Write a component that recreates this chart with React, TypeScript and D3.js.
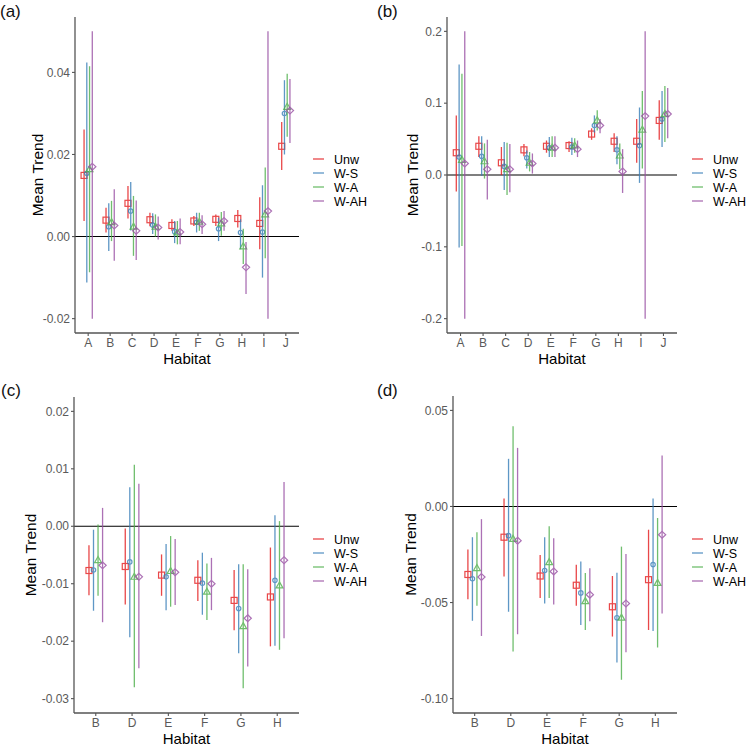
import * as d3 from "d3";

const seriesNames = ["Unw", "W-S", "W-A", "W-AH"];
const seriesColors = ["#E41A1C", "#377EB8", "#4DAF4A", "#984EA3"];

const habitatsTop = ["A", "B", "C", "D", "E", "F", "G", "H", "I", "J"];
const habitatsBottom = ["B", "D", "E", "F", "G", "H"];

// each entry: [mean, lower, upper]
const aUnw = [[0.0149, 0.0038, 0.0261], [0.004, 0.001, 0.007], [0.0081, 0.0044, 0.0123], [0.0041, 0.0025, 0.0058], [0.0027, 0.0014, 0.0042], [0.0038, 0.0026, 0.005], [0.0042, 0.0026, 0.0054], [0.0044, 0.0022, 0.0065], [0.0032, -0.0031, 0.0096], [0.022, 0.0162, 0.0279]];
const aWS = [[0.0154, -0.0112, 0.0424], [0.0024, -0.0035, 0.0081], [0.0062, 0.0015, 0.0133], [0.0028, 0.0006, 0.0057], [0.0012, -0.0016, 0.0038], [0.0035, 0.001, 0.0058], [0.0019, -0.0011, 0.0046], [0.001, -0.0031, 0.0042], [0.0011, -0.01, 0.0125], [0.03, 0.02, 0.0381]];
const aWA = [[0.0164, -0.0087, 0.0415], [0.0035, -0.0011, 0.0087], [0.0024, -0.0047, 0.0099], [0.0024, 0.0, 0.0054], [0.001, -0.0019, 0.0038], [0.0036, 0.0014, 0.0058], [0.0032, 0.0002, 0.006], [-0.0024, -0.0067, 0.0019], [0.0054, -0.0053, 0.0168], [0.0316, 0.0243, 0.0397]];
const aWAH = [[0.017, -0.02, 0.05], [0.0027, -0.0059, 0.0115], [0.0014, -0.0057, 0.0088], [0.0022, -0.0007, 0.0049], [0.0011, -0.0019, 0.0044], [0.003, 0.0006, 0.0052], [0.0038, 0.0014, 0.0062], [-0.0075, -0.014, -0.0013], [0.0062, -0.02, 0.05], [0.0307, 0.0228, 0.0384]];

const bUnw = [[0.031, -0.023, 0.083], [0.04, 0.025, 0.054], [0.017, 0.0, 0.039], [0.035, 0.026, 0.043], [0.04, 0.031, 0.048], [0.041, 0.032, 0.047], [0.057, 0.049, 0.065], [0.047, 0.032, 0.058], [0.047, 0.017, 0.078], [0.076, 0.049, 0.104]];
const bWS = [[0.025, -0.101, 0.154], [0.026, -0.001, 0.054], [0.012, -0.021, 0.046], [0.024, 0.009, 0.034], [0.038, 0.025, 0.053], [0.039, 0.028, 0.052], [0.069, 0.059, 0.083], [0.035, 0.015, 0.054], [0.041, -0.011, 0.094], [0.078, 0.039, 0.117]];
const bWA = [[0.021, -0.099, 0.141], [0.019, -0.005, 0.044], [0.008, -0.028, 0.045], [0.017, 0.005, 0.032], [0.038, 0.025, 0.054], [0.041, 0.031, 0.051], [0.076, 0.062, 0.09], [0.027, 0.008, 0.044], [0.063, 0.009, 0.117], [0.085, 0.046, 0.124]];
const bWAH = [[0.016, -0.2, 0.2], [0.008, -0.034, 0.049], [0.008, -0.024, 0.043], [0.016, 0.002, 0.03], [0.038, 0.025, 0.054], [0.036, 0.025, 0.048], [0.069, 0.058, 0.078], [0.005, -0.025, 0.036], [0.082, -0.2, 0.2], [0.085, 0.051, 0.121]];

const cUnw = [[-0.0077, -0.012, -0.0033], [-0.007, -0.0136, -0.0004], [-0.0085, -0.0121, -0.0049], [-0.0094, -0.013, -0.0059], [-0.0129, -0.0181, -0.0076], [-0.0123, -0.0209, -0.0037]];
const cWS = [[-0.0076, -0.0147, -0.0006], [-0.0062, -0.0193, 0.0068], [-0.0088, -0.0146, -0.0031], [-0.0099, -0.0154, -0.0046], [-0.0143, -0.0221, -0.0066], [-0.0094, -0.0208, 0.0019]];
const cWA = [[-0.0059, -0.0121, 0.0003], [-0.0088, -0.028, 0.0107], [-0.0078, -0.014, -0.0017], [-0.0114, -0.0163, -0.0065], [-0.0174, -0.0282, -0.0066], [-0.0103, -0.0215, 0.0009]];
const cWAH = [[-0.0068, -0.0167, 0.0032], [-0.0088, -0.0247, 0.0074], [-0.008, -0.0137, -0.0022], [-0.01, -0.0146, -0.0055], [-0.016, -0.0244, -0.0075], [-0.0059, -0.0195, 0.0077]];

const dUnw = [[-0.0354, -0.0483, -0.0224], [-0.016, -0.0364, 0.0041], [-0.0362, -0.0476, -0.0252], [-0.041, -0.0517, -0.0304], [-0.0522, -0.0677, -0.0362], [-0.0381, -0.0643, -0.0121]];
const dWS = [[-0.0376, -0.0595, -0.016], [-0.0152, -0.0548, 0.0248], [-0.0333, -0.0505, -0.016], [-0.045, -0.0617, -0.0286], [-0.0579, -0.0812, -0.0345], [-0.0302, -0.0648, 0.0041]];
const dWA = [[-0.0321, -0.0517, -0.0134], [-0.0169, -0.0755, 0.0417], [-0.029, -0.0476, -0.0103], [-0.0493, -0.0643, -0.0346], [-0.0579, -0.0902, -0.0209], [-0.0398, -0.0734, -0.006]];
const dWAH = [[-0.0367, -0.0674, -0.0066], [-0.0178, -0.0665, 0.0305], [-0.0338, -0.051, -0.0165], [-0.0459, -0.0597, -0.0321], [-0.0505, -0.0759, -0.0248], [-0.0147, -0.0557, 0.0265]];

const ticksA = [-0.02, 0.0, 0.02, 0.04];
const ticksB = [-0.2, -0.1, 0.0, 0.1, 0.2];
const ticksC = [-0.03, -0.02, -0.01, 0.0, 0.01, 0.02];
const ticksD = [-0.1, -0.05, 0.0, 0.05];

const font = "'Liberation Sans', Arial, sans-serif";

type PanelProps = {
  label: string;
  cats: string[];
  series: number[][][];
  limits: [number, number];
  ticks: number[];
  fmt: (v: number) => string;
  x0: number;
  x1: number;
  yTop: number;
  yBot: number;
  titleX: number;
  labelX: number;
  labelY: number;
  legendX: number;
  legendY: number;
};

const Marker = ({ kind, x, y, color }: { kind: number; x: number; y: number; color: string }) => {
  const common = { fill: "none", stroke: color, strokeWidth: 1.2 };
  if (kind === 0) return <rect x={x - 3} y={y - 3} width={6} height={6} {...common} />;
  if (kind === 1) return <circle cx={x} cy={y} r={2.2} {...common} />;
  if (kind === 2)
    return <path d={`M${x},${y - 3.6}L${x + 3.4},${y + 2.4}L${x - 3.4},${y + 2.4}Z`} {...common} />;
  return <path d={`M${x},${y - 3.4}L${x + 3.6},${y}L${x},${y + 3.4}L${x - 3.6},${y}Z`} {...common} />;
};

const Panel = (p: PanelProps) => {
  const pad = (p.limits[1] - p.limits[0]) * 0.05;
  const y = d3
    .scaleLinear()
    .domain([p.limits[0] - pad, p.limits[1] + pad])
    .range([p.yBot, p.yTop]);
  const x = d3.scalePoint<string>().domain(p.cats).range([p.x0, p.x1]).padding(0.6);
  const step = x.step();
  const dodge = (i: number) => (i - 1.5) * step * 0.125;
  const axisColor = "#555";
  const textColor = "#5a5a5a";

  return (
    <g>
      <text x={p.labelX} y={p.labelY} fontSize={17} fontFamily={font} fill="#111">
        {p.label}
      </text>
      {/* zero line */}
      <line x1={p.x0} x2={p.x1} y1={y(0)} y2={y(0)} stroke="#000" strokeWidth={1.1} />
      {/* error bars and points */}
      {p.series.map((s, si) => (
        <g key={si} opacity={0.8}>
          {s.map((d, ci) => {
            const cx = x(p.cats[ci])! + dodge(si);
            return (
              <g key={ci}>
                <line x1={cx} x2={cx} y1={y(d[1])} y2={y(d[2])} stroke={seriesColors[si]} strokeWidth={1.3} />
                <Marker kind={si} x={cx} y={y(d[0])} color={seriesColors[si]} />
              </g>
            );
          })}
        </g>
      ))}
      {/* axes */}
      <line x1={p.x0} x2={p.x0} y1={p.yTop} y2={p.yBot} stroke={axisColor} strokeWidth={1.3} />
      <line x1={p.x0} x2={p.x1} y1={p.yBot} y2={p.yBot} stroke={axisColor} strokeWidth={1.3} />
      {p.ticks.map((t) => (
        <g key={t}>
          <line x1={p.x0 - 3} x2={p.x0} y1={y(t)} y2={y(t)} stroke={axisColor} strokeWidth={1.1} />
          <text x={p.x0 - 5} y={y(t) + 4.2} textAnchor="end" fontSize={12} fontFamily={font} fill={textColor}>
            {p.fmt(t)}
          </text>
        </g>
      ))}
      {p.cats.map((c) => (
        <g key={c}>
          <line x1={x(c)} x2={x(c)} y1={p.yBot} y2={p.yBot + 3} stroke={axisColor} strokeWidth={1.1} />
          <text x={x(c)} y={p.yBot + 13.5} textAnchor="middle" fontSize={12} fontFamily={font} fill={textColor}>
            {c}
          </text>
        </g>
      ))}
      <text
        x={(p.x0 + p.x1) / 2}
        y={p.yBot + 30.5}
        textAnchor="middle"
        fontSize={15}
        fontFamily={font}
        fill="#000"
      >
        Habitat
      </text>
      <text
        transform={`translate(${p.titleX},${(p.yTop + p.yBot) / 2}) rotate(-90)`}
        textAnchor="middle"
        dy="0.35em"
        fontSize={15.5}
        fontFamily={font}
        fill="#000"
      >
        Mean Trend
      </text>
      {/* legend */}
      {seriesNames.map((n, i) => (
        <g key={n} transform={`translate(${p.legendX},${p.legendY + i * 14})`}>
          <line x1={0} x2={11} y1={0} y2={0} stroke={seriesColors[i]} strokeWidth={1.3} opacity={0.8} />
          <text x={21} y={4.5} fontSize={12.5} fontFamily={font} fill="#000">
            {n}
          </text>
        </g>
      ))}
    </g>
  );
};

const f2 = d3.format(".2f");
const f1 = d3.format(".1f");
const fmtMinus = (f: (v: number) => string) => (v: number) => f(v).replace("\u2212", "-");

export default function App() {
  return (
    <svg width={747} height={747} style={{ position: "absolute", left: 0, top: 0, background: "#fff" }}>
      <Panel label="(a)" cats={habitatsTop} series={[aUnw, aWS, aWA, aWAH]} limits={[-0.02, 0.05]} ticks={ticksA}
        fmt={fmtMinus(f2)} x0={75} x1={299} yTop={17} yBot={333} titleX={38} labelX={0} labelY={17}
        legendX={313} legendY={159} />
      <Panel label="(b)" cats={habitatsTop} series={[bUnw, bWS, bWA, bWAH]} limits={[-0.2, 0.2]} ticks={ticksB}
        fmt={fmtMinus(f1)} x0={447} x1={677} yTop={17} yBot={333} titleX={413} labelX={377} labelY={17}
        legendX={692} legendY={159} />
      <Panel label="(c)" cats={habitatsBottom} series={[cUnw, cWS, cWA, cWAH]} limits={[-0.03, 0.02]} ticks={ticksC}
        fmt={fmtMinus(f2)} x0={74} x1={299} yTop={397} yBot={713} titleX={31} labelX={1} labelY={396}
        legendX={313} legendY={539} />
      <Panel label="(d)" cats={habitatsBottom} series={[dUnw, dWS, dWA, dWAH]} limits={[-0.1, 0.05]} ticks={ticksD}
        fmt={fmtMinus(f2)} x0={453} x1={677} yTop={396} yBot={713} titleX={411} labelX={377} labelY={396}
        legendX={692} legendY={539} />
    </svg>
  );
}
